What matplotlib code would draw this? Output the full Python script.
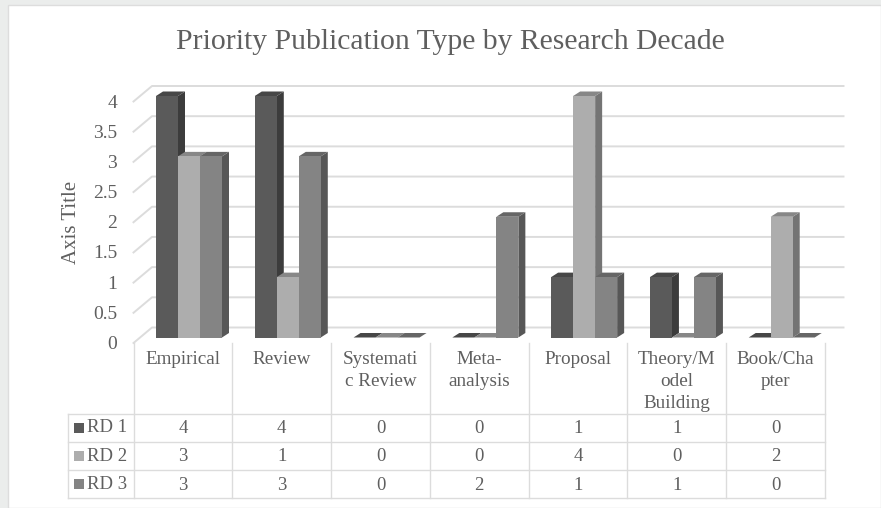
import matplotlib
matplotlib.use('Agg')
import matplotlib.pyplot as plt
from matplotlib.patches import Polygon, Rectangle

categories = ['Empirical', 'Review', 'Systemati\nc Review', 'Meta-\nanalysis',
              'Proposal', 'Theory/M\nodel\nBuilding', 'Book/Cha\npter']
series_names = ['RD 1', 'RD 2', 'RD 3']
rd1 = [4, 4, 0, 0, 1, 1, 0]
rd2 = [3, 1, 0, 0, 4, 0, 2]
rd3 = [3, 3, 0, 2, 1, 1, 0]
y_ticks = [0, 0.5, 1, 1.5, 2, 2.5, 3, 3.5, 4]
y_tick_labels = ['0', '0.5', '1', '1.5', '2', '2.5', '3', '3.5', '4']

W, H = 881, 508
TEXT = '#5f5f5f'
LINE = '#dcdcdc'
faces = ['#5a5a5a', '#adadad', '#848484']
sides = ['#3c3c3c', '#747474', '#575757']
tops = ['#474747', '#878787', '#666666']

plt.rcParams['font.family'] = ['Liberation Serif', 'DejaVu Serif']

fig = plt.figure(figsize=(W / 100, H / 100), dpi=100, facecolor='#ebedec')


def px(x, y):
    return x / W, 1 - y / H


# white chart panel behind everything
fig.add_artist(Rectangle(px(7.5, H), 1 - 7.5 / W, 1 - 4.5 / H, transform=fig.transFigure,
                         facecolor='white', edgecolor='#dddddd', lw=1, zorder=-5))

# front plane of the bars: value 0 at y=337.5, value 4 at y=96, one slot = 98.8 px
left, right = 133.5, 825
ax = fig.add_axes([left / W, 1 - 337.5 / H, (right - left) / W, (337.5 - 96) / H])
ax.set_xlim(0, 7)
ax.set_ylim(0, 4)
ax.axis('off')

unit_x = (right - left) / 7
unit_y = (337.5 - 96) / 4
depth_x = 7 / unit_x
depth_y = 4.5 / unit_y
wall_x = 18.5 / unit_x
wall_y = 10 / unit_y
floor_y = -5.5 / unit_y

# back wall gridlines and the short diagonals down the side wall
for t, lab in zip(y_ticks, y_tick_labels):
    ax.plot([0, wall_x, 7 + wall_x], [t + floor_y, t + wall_y, t + wall_y],
            color=LINE, lw=1.4, clip_on=False, zorder=1)
    ax.text(-16.5 / unit_x, t + floor_y - 1.5 / unit_y, lab, ha='right', va='center',
            fontsize=14, color=TEXT)

bar_w = 22 / unit_x
start = 22.5 / unit_x
for s, vals in enumerate([rd1, rd2, rd3]):
    for i, v in enumerate(vals):
        x0 = i + start + s * bar_w
        x1 = x0 + bar_w
        z = 3 + s
        ax.add_patch(Polygon([(x1, 0), (x1 + depth_x, depth_y), (x1 + depth_x, v + depth_y), (x1, v)],
                             facecolor=sides[s], edgecolor='none', zorder=z, clip_on=False))
        ax.add_patch(Polygon([(x0, v), (x0 + depth_x, v + depth_y), (x1 + depth_x, v + depth_y), (x1, v)],
                             facecolor=tops[s], edgecolor='none', zorder=z, clip_on=False))
        ax.bar(x0, v, width=bar_w, align='edge', color=faces[s], zorder=z + 0.5)

fig.text(*px(450, 42), 'Priority Publication Type by Research Decade', ha='center', va='center',
         fontsize=21.3, color=TEXT)
fig.text(*px(71, 222), 'Axis Title', rotation=90, ha='center', va='center', fontsize=15, color=TEXT)

# data table under the bars
row_y = [413.5, 441.5, 470, 498]
tbl_left = 67.5
cat_top = 343
for i in range(8):
    x = left + i * unit_x
    fig.add_artist(plt.Line2D(*zip(px(x, cat_top), px(x, row_y[-1])), color=LINE, lw=1))
for y in row_y:
    fig.add_artist(plt.Line2D(*zip(px(tbl_left, y), px(right, y)), color=LINE, lw=1))
fig.add_artist(plt.Line2D(*zip(px(tbl_left, row_y[0]), px(tbl_left, row_y[-1])), color=LINE, lw=1))

for i, c in enumerate(categories):
    fig.text(*px(left + (i + 0.5) * unit_x, 351), c, ha='center', va='top', fontsize=13.8,
             color=TEXT, linespacing=1.4)

for r, (name, vals) in enumerate(zip(series_names, [rd1, rd2, rd3])):
    yc = (row_y[r] + row_y[r + 1]) / 2
    fig.add_artist(Rectangle((73.5 / W, 1 - (yc + 5) / H), 10 / W, 10 / H, transform=fig.transFigure,
                             facecolor=faces[r], edgecolor='none'))
    fig.text(*px(87, yc + 0.5), name, ha='left', va='center', fontsize=13.5, color=TEXT)
    for i, v in enumerate(vals):
        fig.text(*px(left + (i + 0.5) * unit_x, yc + 1), str(v), ha='center', va='center',
                 fontsize=13.5, color=TEXT)

fig.savefig('out.png', dpi=100, facecolor=fig.get_facecolor())
